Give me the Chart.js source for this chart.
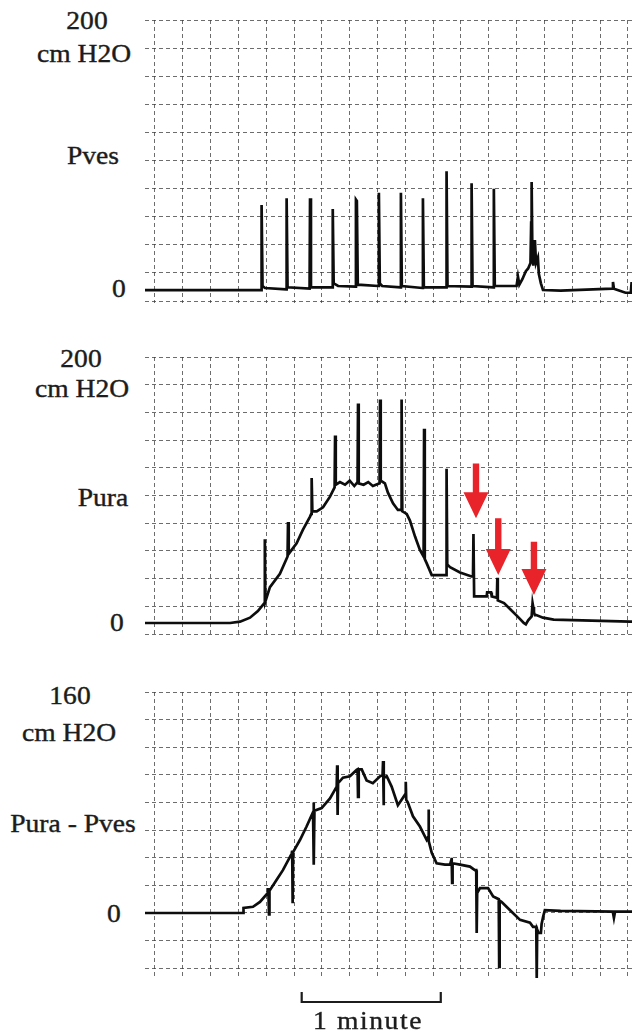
<!DOCTYPE html>
<html><head><meta charset="utf-8">
<script src="https://cdn.jsdelivr.net/npm/chart.js@4.4.1/dist/chart.umd.min.js"></script>
<style>
html,body{margin:0;padding:0;background:#fff;}
body{width:633px;height:1034px;position:relative;overflow:hidden;font-family:'Liberation Serif','Times New Roman',serif;color:#1c1c1c;}
canvas{position:absolute;}
.lbl{position:absolute;font-family:'Liberation Serif','Times New Roman',serif;font-size:26px;line-height:26px;white-space:nowrap;transform:translateX(-50%) scaleX(1.06);-webkit-text-stroke:0.4px #1c1c1c;}
</style></head><body>
<canvas id="c1" width="487" height="283" style="left:145px;top:20px"></canvas>
<canvas id="c2" width="487" height="279" style="left:145px;top:357px"></canvas>
<canvas id="c3" width="487" height="287" style="left:145px;top:692px"></canvas>
<canvas id="c4" width="487" height="20" style="left:145px;top:988px"></canvas>

<div class="lbl" style="left:87px;top:8px">200</div>
<div class="lbl" style="left:83.5px;top:41px">cm H2O</div>
<div class="lbl" style="left:93px;top:143px">Pves</div>
<div class="lbl" style="left:118.5px;top:276px">0</div>

<div class="lbl" style="left:81px;top:346px">200</div>
<div class="lbl" style="left:81.5px;top:376px">cm H2O</div>
<div class="lbl" style="left:103px;top:485px">Pura</div>
<div class="lbl" style="left:116.5px;top:610px">0</div>

<div class="lbl" style="left:70px;top:683px">160</div>
<div class="lbl" style="left:69px;top:720px">cm H2O</div>
<div class="lbl" style="left:72.5px;top:811px">Pura - Pves</div>
<div class="lbl" style="left:113.5px;top:901px">0</div>

<div class="lbl" style="left:368px;top:1008px;letter-spacing:1.5px">1 minute</div>

<script>
// ---- data (time in seconds, pressures in cm H2O) ----
const timeMin = -4.3, timeMax = 205.8;

const pvesT = [-4.3,45.8,46.0,46.4,47.5,56.6,56.8,57.2,66.7,66.9,67.3,76.5,76.7,77.1,79,86.5,86.7,87.1,87.5,96.4,96.6,97.0,98,105.9,106.1,106.5,115.4,115.6,116.0,125.6,125.8,126.2,136.4,136.6,137.0,146.0,146.2,146.6,156,156.6,157.2,158.5,160,161,162.0,162.3,162.5,162.8,163.2,163.9,164.4,165.2,165.6,166.5,167.4,175,197.3,197.6,198.0,203.0,205.3,205.6,205.8];
const pvesV = [0,0,63,3,1.5,0.5,68,2,1,68,2,2,60,5,3,2.5,67,66,4,3,72,5,3,2,72,3,1.5,68,2,2,88,3,2.5,79,3,2,75,3,3,10,4,8,14,16,20,50,80,30,18,37,20,24,12,5,0,-0.5,1,6,1,-2,-2,5,5];

const puraT = [-4.3,32.4,36.7,41.0,44.4,47.2,47.4,47.6,49.6,53.9,57.2,57.4,57.7,61.1,63.8,66.9,67.4,67.6,67.9,69.8,72.5,75.5,77.5,77.7,78.0,79.8,82,84,86,87.4,87.6,87.9,90,92,94,96.9,97.1,97.4,99.2,100.5,102.7,104.8,106.2,106.4,106.7,108.6,110.0,112.2,114.3,115.9,116.1,116.4,117.2,119.4,125.6,125.8,126.1,127.3,131.6,136.6,137.2,137.4,137.7,143.1,143.3,145.0,145.3,147.5,147.7,147.9,150.6,153.5,156.4,159.1,160,161,162.5,162.9,163.2,163.5,163.9,164.5,167.4,172,204.9,205.8];
const puraV = [0,0,1,4,9,15,63,16,27,37,50,76,52,60,70,80,82,109,84,84,87,95,102,141,104,106,104,107,103,106,165,105,104,106,103,105,168,107,105,98,90,85,85,168,84,82,77,65,55,50,146,48,45,36,36,116,44,42,38,35,35,67,20,20,23,23,20,19,34,17,15,10,5,0,-1,2,5,15,12,8,6,6,4,2.5,1,1];

const diffT = [-4.3,38.1,38.2,42.3,45.3,48.7,48.9,49.2,49.4,52.5,55.2,59.0,59.2,59.4,59.6,62.6,65.4,68.2,68.4,68.6,68.8,71.9,75.5,78.4,78.6,78.8,79.0,81.1,84.1,87.0,87.4,87.6,87.9,89.2,91.3,94.0,97.1,98.2,98.4,98.6,98.8,100.0,102.1,104.8,106.4,108.0,108.2,108.4,109.1,111.3,114.3,117.2,117.8,118.0,118.2,119.4,121.5,125.1,127.3,127.8,128.0,128.2,128.4,131.6,135.9,138.0,138.6,138.8,139.0,140.2,143.7,145.9,148.3,148.5,148.7,149.6,153.2,157.5,161.8,163.1,164.5,164.7,164.9,165.5,166.5,166.8,167.5,168.2,175,197.5,198.0,198.5,205.8];
const diffV = [0,0,3.6,4.5,8,14.5,18,-1,16,24,31,43,45,7,44,53,62.6,73,80,35,74,76,83,91.5,107,71,94,98,99,103.6,104,84,104,104,96,94,99,100,110,78,98,99,91.5,78,82,86,95,82,80,70,62.6,53,55,75,52,43.5,36,35,35,38,40,21.7,36,35,33.6,31,31,-14.5,14.5,18,18,12,10,-39,9,8,2,-5,-7,-10,-10,-47,-12,-14.5,-14.5,-8,-2.5,2,1.5,1,-3.6,1,1];

// red arrows on the Pura trace (time, start value, tip value)
const arrowT = [138.5, 148.1, 163.5];
const arrowFrom = [120, 78.7, 61];
const arrowTo = [78.7, 36, 21];

// 1 minute scale bar
const scaleBarStart = 63.3, scaleBarLength = 60;

// ---- chart helpers ----
const pts = (ts, vs) => ts.map((t, i) => ({x: t, y: vs[i]}));
const gridColor = 'rgba(60,60,60,0.75)';

const arrowPlugin = {
  id: 'arrows',
  afterDatasetsDraw(chart, args, o) {
    if (!o || !o.t) return;
    const ctx = chart.ctx, xs = chart.scales.x, ys = chart.scales.y;
    ctx.save();
    ctx.fillStyle = o.color;
    o.t.forEach((t, i) => {
      const cx = xs.getPixelForValue(t);
      const y0 = ys.getPixelForValue(o.from[i]);
      const y1 = ys.getPixelForValue(o.to[i]);
      const hl = 26, hw = 12.5, sw = 3.2;
      ctx.beginPath();
      ctx.moveTo(cx - sw, y0);
      ctx.lineTo(cx + sw, y0);
      ctx.lineTo(cx + sw, y1 - hl);
      ctx.lineTo(cx + hw, y1 - hl);
      ctx.lineTo(cx, y1);
      ctx.lineTo(cx - hw, y1 - hl);
      ctx.lineTo(cx - sw, y1 - hl);
      ctx.closePath();
      ctx.fill();
    });
    ctx.restore();
  }
};

function panel(id, data, yMin, yMax, gMin, gMax, extra) {
  return new Chart(document.getElementById(id), {
    type: 'line',
    data: {datasets: [{data: data, borderColor: '#0d0d0d', borderWidth: 2.7, pointRadius: 0, tension: 0, fill: false, borderJoinStyle: 'miter'}]},
    plugins: extra ? [arrowPlugin] : [],
    options: {
      responsive: false, animation: false, devicePixelRatio: 1,
      layout: {padding: 0},
      plugins: {legend: {display: false}, tooltip: {enabled: false}, arrows: extra || {}},
      scales: {
        x: {type: 'linear', min: timeMin, max: timeMax,
            ticks: {display: false, stepSize: 12, includeBounds: false},
            grid: {color: gridColor, lineWidth: 1, drawTicks: false},
            border: {display: false, dash: [4, 3]}},
        y: {type: 'linear', display: false, min: yMin, max: yMax},
        g: {type: 'linear', position: 'left', min: gMin, max: gMax,
            ticks: {display: false, stepSize: 1, includeBounds: false},
            grid: {color: gridColor, lineWidth: 1, drawTicks: false},
            border: {display: false, dash: [4, 3]}}
      }
    }
  });
}

panel('c1', pts(pvesT, pvesV), -9.6, 200, -0.07, 10);
panel('c2', pts(puraT, puraV), -9.77, 200, -0.07, 10,
      {t: arrowT, from: arrowFrom, to: arrowTo, color: '#e8232a'});
panel('c3', pts(diffT, diffV), -47.8, 160, -2.39, 8);

new Chart(document.getElementById('c4'), {
  type: 'line',
  data: {datasets: [{
    data: [{x: scaleBarStart, y: 1}, {x: scaleBarStart, y: 0},
           {x: scaleBarStart + scaleBarLength, y: 0}, {x: scaleBarStart + scaleBarLength, y: 1}],
    borderColor: '#1c1c1c', borderWidth: 2.2, pointRadius: 0, tension: 0, fill: false}]},
  options: {
    responsive: false, animation: false, devicePixelRatio: 1, layout: {padding: 0},
    plugins: {legend: {display: false}, tooltip: {enabled: false}},
    scales: {x: {type: 'linear', display: false, min: timeMin, max: timeMax},
             y: {type: 'linear', display: false, min: -0.6, max: 1.4}}
  }
});
</script>
</body></html>
